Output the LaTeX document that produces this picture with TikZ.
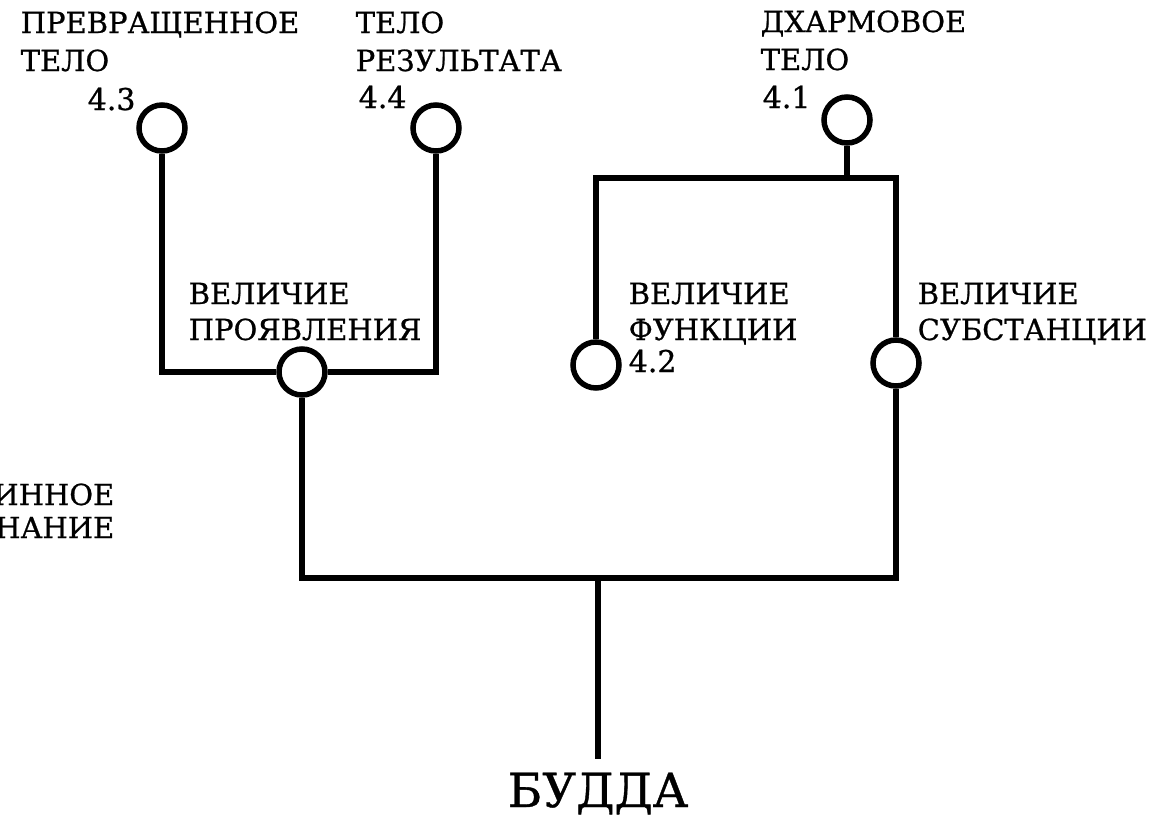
\documentclass[tikz,border=0pt]{standalone}
\usepackage{fontspec}
\setmainfont{DejaVu Serif}[FakeBold=0.8]
\begin{document}
\begin{tikzpicture}[x=1pt,y=-1pt,line width=5.5pt,
  dot/.style={circle,draw,minimum size=46pt,inner sep=0pt,line width=5.5pt},
  lbl/.style={font=\fontsize{29}{34}\selectfont,inner sep=0pt,anchor=base west},
  num/.style={font=\fontsize{30}{34}\selectfont,inner sep=0pt,anchor=base west}]
\useasboundingbox (0,0) rectangle (1172,827);
\clip (0,0) rectangle (1172,827);
% circles
\node[dot] (c43) at (162,128) {};
\node[dot] (c44) at (436,128) {};
\node[dot] (c41) at (847,120) {};
\node[dot] (cp) at (302,372) {};
\node[dot] (c42) at (596,365) {};
\node[dot] (cs) at (896,363) {};
\coordinate (top) at (847,178);
\coordinate (bot) at (598,578);
% labels
\node[lbl] (t43a) at (18,33) {ПРЕВРАЩЕННОЕ};
\node[lbl] (t43b) at (18,71) {ТЕЛО};
\node[num] (n43) at (85,110) {4.3};
\node[lbl] (t44a) at (353,33) {ТЕЛО};
\node[lbl] (t44b) at (353,71) {РЕЗУЛЬТАТА};
\node[num] (n44) at (356,108) {4.4};
\node[lbl] (t41a) at (758,32) {ДХАРМОВОЕ};
\node[lbl] (t41b) at (758,70) {ТЕЛО};
\node[num] (n41) at (760,108) {4.1};
\node[lbl] (tpa) at (186,304) {ВЕЛИЧИЕ};
\node[lbl] (tpb) at (186,340) {ПРОЯВЛЕНИЯ};
\node[lbl] (tfa) at (626,304) {ВЕЛИЧИЕ};
\node[lbl] (tfb) at (626,340) {ФУНКЦИИ};
\node[num] (n42) at (626,372) {4.2};
\node[lbl] (tsa) at (915,304) {ВЕЛИЧИЕ};
\node[lbl] (tsb) at (915,340) {СУБСТАНЦИИ};
\node[lbl,anchor=base east] (tla) at (117,505) {ИННОЕ};
\node[lbl,anchor=base east] (tlb) at (117,538) {НАНИЕ};
\node[font=\fontsize{47}{50}\selectfont,inner xsep=0pt,inner ysep=11pt,anchor=base] (b) at (598,807) {БУДДА};
% connectors
\draw (c43.south) |- (cp.west);
\draw (c44.south) |- (cp.east);
\draw (c41.south) -- (top);
\draw (c42.north) |- (top) -| (cs.north);
\draw (cp.south) |- (bot) -| (cs.south);
\draw (bot) -- (b.north);
\end{tikzpicture}
\end{document}
